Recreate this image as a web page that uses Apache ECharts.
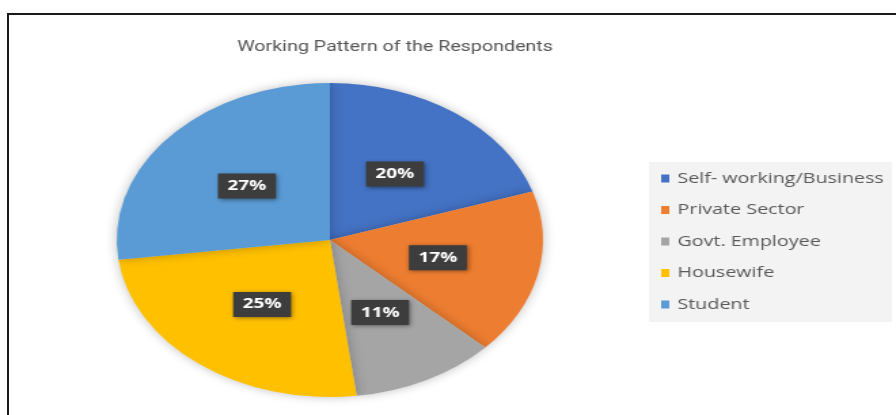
<!DOCTYPE html>
<html>
<head>
<meta charset="utf-8">
<script src="https://cdn.jsdelivr.net/npm/echarts@6/dist/echarts.min.js"></script>
<style>
  html, body { margin: 0; padding: 0; background: #fff; width: 896px; height: 415px; overflow: hidden; }
  #frame { position: absolute; left: 7px; top: 13px; width: 889px; height: 402px;
           border-top: 2px solid #1a1a1a; border-left: 2px solid #1a1a1a; box-sizing: border-box; }
  /* the chart is laid out narrow and widened, giving the oval pie */
  #chart { position: absolute; left: 0; top: 0; width: 660px; height: 415px;
           transform: scaleX(1.3576); transform-origin: 0 0; }
</style>
</head>
<body>
<div id="frame"></div>
<div id="chart"></div>
<script>
const categories = ['Self- working/Business', 'Private Sector', 'Govt. Employee', 'Housewife', 'Student'];
const values = [20, 17, 11, 25, 27];
const colors = ['#4472C4', '#ED7D31', '#A5A5A5', '#FFC000', '#5B9BD5'];
const titleText = 'Working Pattern of the Respondents';

const chart = echarts.init(document.getElementById('chart'), null, { renderer: 'canvas' });
chart.setOption({
  animation: false,
  color: colors,
  title: {
    text: titleText,
    left: 286,
    textAlign: 'center',
    top: 35,
    textStyle: { fontFamily: 'Roboto', fontWeight: 'normal', fontSize: 14.5, color: '#555555' }
  },
  legend: {
    orient: 'vertical',
    left: 478,
    top: 162,
    padding: [9, 6, 10, 9],
    itemGap: 16.5,
    itemWidth: 6,
    itemHeight: 8,
    icon: 'rect',
    backgroundColor: '#f3f3f3',
    textStyle: { fontFamily: 'Open Sans', fontSize: 14.5, color: '#595959', padding: [0, 0, 0, 1] },
    data: categories
  },
  series: [{
    type: 'pie',
    center: [243, 240],
    radius: 157,
    startAngle: 90,
    clockwise: true,
    itemStyle: { shadowBlur: 10, shadowColor: 'rgba(0,0,0,0.25)' },
    label: {
      position: 'inside',
      formatter: '{c}%',
      fontFamily: 'Open Sans',
      fontWeight: 'bold',
      fontSize: 14,
      color: '#ffffff',
      backgroundColor: '#3d3d3d',
      padding: [6, 7, 5, 7],
      shadowColor: 'rgba(0,0,0,0.45)',
      shadowBlur: 4,
      shadowOffsetX: 1,
      shadowOffsetY: 1
    },
    labelLine: { show: false },
    data: categories.map((name, i) => ({ name: name, value: values[i] }))
  }]
});
</script>
</body>
</html>
